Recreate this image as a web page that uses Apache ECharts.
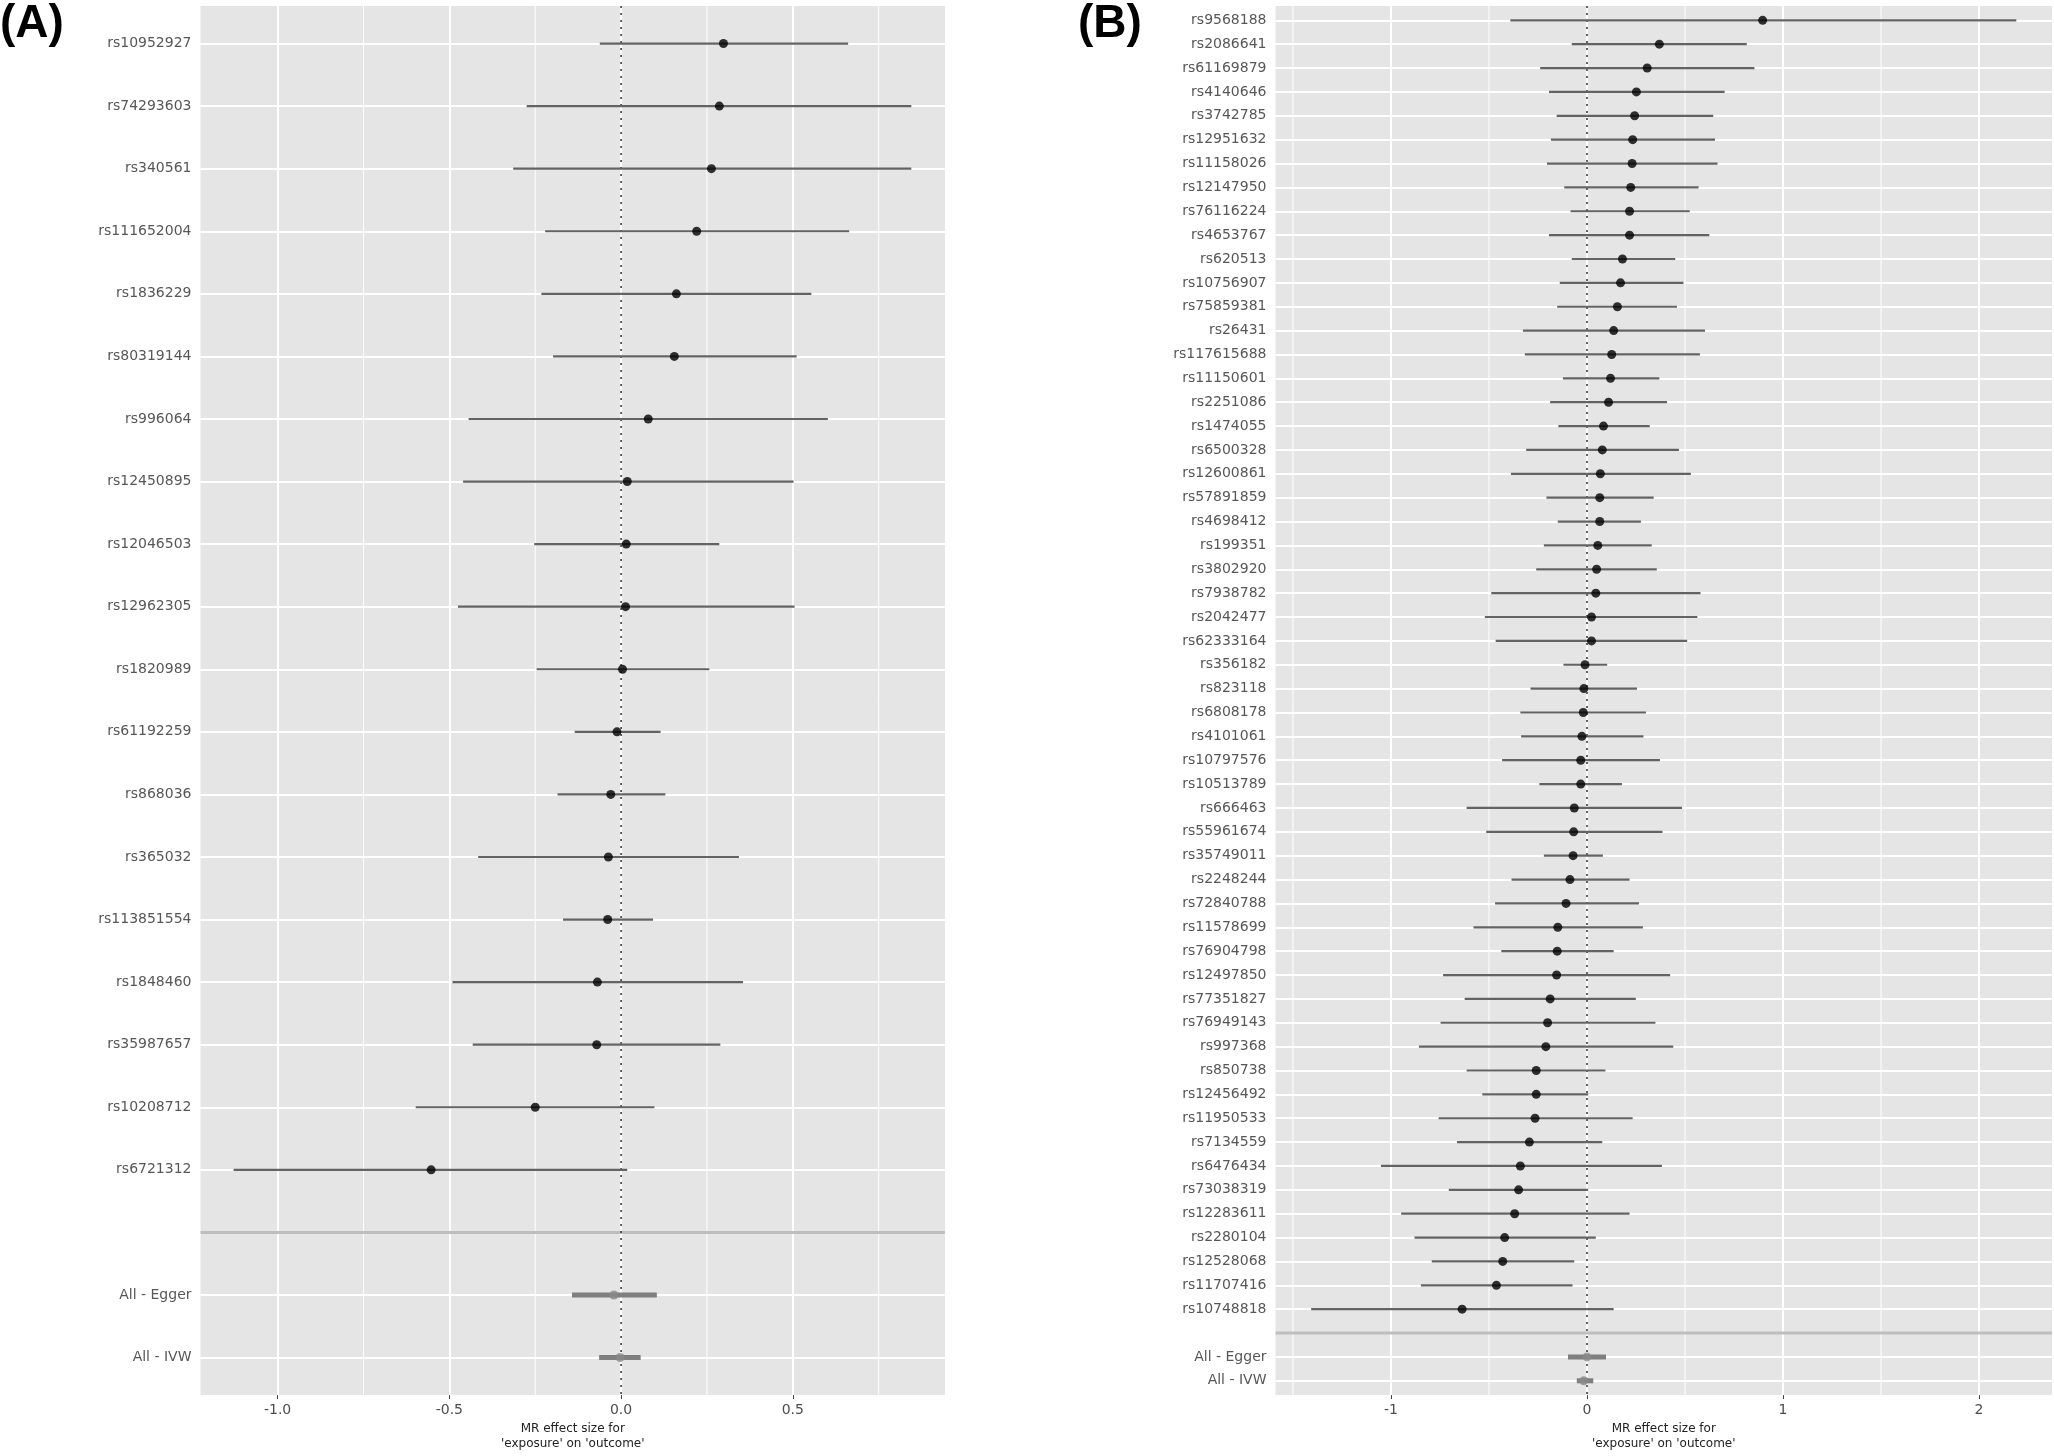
<!DOCTYPE html>
<html><head><meta charset="utf-8">
<script src="https://cdn.jsdelivr.net/npm/echarts@6/dist/echarts.min.js"></script>
<style>html,body{margin:0;padding:0;background:#fff}#c{width:2054px;height:1456px}</style>
</head><body><div id="c"></div>
<script>
// ---------------- Panel A data ----------------
const snpA = ['rs10952927','rs74293603','rs340561','rs111652004','rs1836229','rs80319144','rs996064','rs12450895','rs12046503','rs12962305','rs1820989','rs61192259','rs868036','rs365032','rs113851554','rs1848460','rs35987657','rs10208712','rs6721312'];
const bA  = [0.298,0.286,0.263,0.220,0.161,0.155,0.079,0.018,0.015,0.013,0.004,-0.012,-0.030,-0.037,-0.039,-0.069,-0.071,-0.250,-0.553];
const loA = [-0.062,-0.275,-0.314,-0.221,-0.232,-0.198,-0.444,-0.460,-0.253,-0.475,-0.246,-0.135,-0.185,-0.416,-0.169,-0.491,-0.432,-0.598,-1.128];
const hiA = [0.661,0.845,0.845,0.664,0.554,0.511,0.602,0.502,0.286,0.505,0.257,0.115,0.129,0.343,0.093,0.355,0.289,0.097,0.018];
const allNames = ['All - Egger','All - IVW'];
const allBA  = [-0.021,-0.003];
const allLoA = [-0.143,-0.064];
const allHiA = [0.104,0.057];
const xTicksA = [-1.0,-0.5,0.0,0.5];
const xMinorA = [-0.75,-0.25,0.25,0.75];

// ---------------- Panel B data ----------------
const snpB = ['rs9568188','rs2086641','rs61169879','rs4140646','rs3742785','rs12951632','rs11158026','rs12147950','rs76116224','rs4653767','rs620513','rs10756907','rs75859381','rs26431','rs117615688','rs11150601','rs2251086','rs1474055','rs6500328','rs12600861','rs57891859','rs4698412','rs199351','rs3802920','rs7938782','rs2042477','rs62333164','rs356182','rs823118','rs6808178','rs4101061','rs10797576','rs10513789','rs666463','rs55961674','rs35749011','rs2248244','rs72840788','rs11578699','rs76904798','rs12497850','rs77351827','rs76949143','rs997368','rs850738','rs12456492','rs11950533','rs7134559','rs6476434','rs73038319','rs12283611','rs2280104','rs12528068','rs11707416','rs10748818'];
const bB  = [0.896,0.369,0.307,0.252,0.243,0.233,0.230,0.223,0.217,0.217,0.181,0.171,0.155,0.136,0.126,0.120,0.110,0.084,0.078,0.068,0.065,0.065,0.055,0.049,0.045,0.023,0.023,-0.010,-0.016,-0.019,-0.026,-0.032,-0.032,-0.065,-0.068,-0.071,-0.087,-0.107,-0.149,-0.152,-0.155,-0.188,-0.201,-0.210,-0.259,-0.259,-0.265,-0.294,-0.340,-0.349,-0.369,-0.420,-0.430,-0.462,-0.637];
const loB = [-0.391,-0.078,-0.239,-0.194,-0.155,-0.184,-0.204,-0.116,-0.084,-0.194,-0.078,-0.139,-0.152,-0.327,-0.317,-0.123,-0.188,-0.146,-0.310,-0.388,-0.207,-0.149,-0.220,-0.259,-0.488,-0.521,-0.466,-0.120,-0.288,-0.340,-0.336,-0.433,-0.243,-0.614,-0.514,-0.220,-0.385,-0.469,-0.579,-0.437,-0.734,-0.624,-0.747,-0.857,-0.614,-0.534,-0.757,-0.663,-1.051,-0.705,-0.948,-0.880,-0.792,-0.847,-1.407];
const hiB = [2.190,0.815,0.854,0.702,0.644,0.653,0.666,0.569,0.524,0.624,0.450,0.492,0.459,0.602,0.576,0.369,0.408,0.320,0.469,0.530,0.340,0.275,0.330,0.356,0.579,0.563,0.511,0.103,0.255,0.301,0.288,0.372,0.178,0.485,0.385,0.081,0.217,0.265,0.285,0.136,0.424,0.249,0.349,0.440,0.094,0.006,0.233,0.078,0.382,0.006,0.217,0.045,-0.065,-0.074,0.136];
const allBB  = [0.000,-0.016];
const allLoB = [-0.097,-0.052];
const allHiB = [0.097,0.032];
const xTicksB = [-1,0,1,2];
const xMinorB = [-1.5,-0.5,0.5,1.5];

const axisTitle = "MR effect size for\n'exposure' on 'outcome'";
const FONT = 'DejaVu Sans';

// ---------------- build ----------------
function rowsOf(snps){ return snps.concat([''], allNames); }

function yAxisFor(gi, rows){
  const idx = rows.map((_, i) => i);
  return {
    gridIndex: gi, type: 'value', inverse: true,
    min: -0.6, max: rows.length - 0.4,
    axisLine: {show: false, onZero: false},
    axisTick: {show: false, customValues: idx},
    axisLabel: {customValues: idx, margin: 9, color: '#575757', fontSize: 14, fontFamily: FONT,
      formatter: v => rows[Math.round(v)] || ''},
    splitLine: {show: true, lineStyle: {color: '#ffffff', width: 2}}
  };
}
function xAxisFor(gi, min, max, ticks, digits){
  return {
    gridIndex: gi, type: 'value', min: min, max: max,
    axisLine: {show: false, onZero: false},
    axisTick: {show: true, length: 4, customValues: ticks, lineStyle: {color: '#444', width: 1}},
    axisLabel: {customValues: ticks, margin: 8, color: '#4d4d4d', fontSize: 14, fontFamily: FONT,
      formatter: v => Number(v).toFixed(digits)},
    splitLine: {show: true, lineStyle: {color: '#ffffff', width: 2}},
    name: axisTitle, nameLocation: 'middle', nameGap: 26,
    nameTextStyle: {fontSize: 12, lineHeight: 14.5, color: '#222', fontFamily: FONT}
  };
}

function seriesFor(gi, snps, b, lo, hi, sB, sLo, sHi, minors){
  const n = snps.length;
  const common = {xAxisIndex: gi, yAxisIndex: gi, silent: true, animation: false};
  return [
    Object.assign({}, common, {
      type: 'custom', z: 1, data: minors.map(v => [v, 0]), encode: {x: 0, y: 1},
      renderItem: (p, api) => {
        const cs = p.coordSys; const x = api.coord([api.value(0), 0])[0];
        return {type: 'line', shape: {x1: x, y1: cs.y, x2: x, y2: cs.y + cs.height},
                style: {stroke: '#ffffff', lineWidth: 1}};
      }
    }),
    Object.assign({}, common, {
      type: 'custom', z: 2, data: [[0, n]], encode: {x: 0, y: 1},
      renderItem: (p, api) => {
        const cs = p.coordSys; const y = api.coord([0, api.value(1)])[1];
        return {type: 'line', shape: {x1: cs.x, y1: y, x2: cs.x + cs.width, y2: y},
                style: {stroke: '#bebebe', lineWidth: 3}};
      }
    }),
    Object.assign({}, common, {
      type: 'custom', z: 2, data: [[0, 0]], encode: {x: 0, y: 1},
      renderItem: (p, api) => {
        const cs = p.coordSys; const x = api.coord([api.value(0), 0])[0];
        return {type: 'line', shape: {x1: x, y1: cs.y, x2: x, y2: cs.y + cs.height},
                style: {stroke: '#333', lineWidth: 1.5, lineDash: [2, 5]}};
      }
    }),
    Object.assign({}, common, {
      type: 'custom', z: 3, data: b.map((_, i) => [lo[i], hi[i], i]), encode: {x: [0, 1], y: 2},
      renderItem: (p, api) => {
        const a = api.coord([api.value(0), api.value(2)]);
        const c = api.coord([api.value(1), api.value(2)]);
        return {type: 'line', shape: {x1: a[0], y1: a[1], x2: c[0], y2: c[1]},
                style: {stroke: '#636363', lineWidth: 2.2}};
      }
    }),
    Object.assign({}, common, {
      type: 'custom', z: 3, data: sB.map((_, i) => [sLo[i], sHi[i], n + 1 + i]), encode: {x: [0, 1], y: 2},
      renderItem: (p, api) => {
        const a = api.coord([api.value(0), api.value(2)]);
        const c = api.coord([api.value(1), api.value(2)]);
        return {type: 'line', shape: {x1: a[0], y1: a[1], x2: c[0], y2: c[1]},
                style: {stroke: '#7f7f7f', lineWidth: 5}};
      }
    }),
    Object.assign({}, common, {
      type: 'scatter', z: 4, symbol: 'circle', symbolSize: 9,
      itemStyle: {color: '#000000'},
      data: b.map((v, i) => [v, i])
    }),
    Object.assign({}, common, {
      type: 'scatter', z: 4, symbol: 'circle', symbolSize: 9,
      itemStyle: {color: '#8a8a8a'},
      data: sB.map((v, i) => [v, n + 1 + i])
    })
  ];
}

const rowsA = rowsOf(snpA), rowsB = rowsOf(snpB);
const chart = echarts.init(document.getElementById('c'), null, {renderer: 'canvas'});
chart.setOption({
  animation: false,
  backgroundColor: '#ffffff',
  title: [
    {text: '(A)', left: 0, top: 1, padding: 0, textStyle: {fontSize: 46, fontWeight: 'bold', color: '#000', fontFamily: 'Liberation Sans'}},
    {text: '(B)', left: 1078, top: 1, padding: 0, textStyle: {fontSize: 46, fontWeight: 'bold', color: '#000', fontFamily: 'Liberation Sans'}}
  ],
  grid: [
    {left: 200.5, top: 6, width: 744.5, height: 1391, show: true, backgroundColor: '#e5e5e5', borderWidth: 0},
    {left: 1275.5, top: 6, width: 776.5, height: 1391, show: true, backgroundColor: '#e5e5e5', borderWidth: 0}
  ],
  xAxis: [xAxisFor(0, -1.2245, 0.943, xTicksA, 1), xAxisFor(1, -1.589, 2.372, xTicksB, 0)],
  yAxis: [yAxisFor(0, rowsA), yAxisFor(1, rowsB)],
  series: seriesFor(0, snpA, bA, loA, hiA, allBA, allLoA, allHiA, xMinorA)
    .concat(seriesFor(1, snpB, bB, loB, hiB, allBB, allLoB, allHiB, xMinorB))
});
</script>
</body></html>
